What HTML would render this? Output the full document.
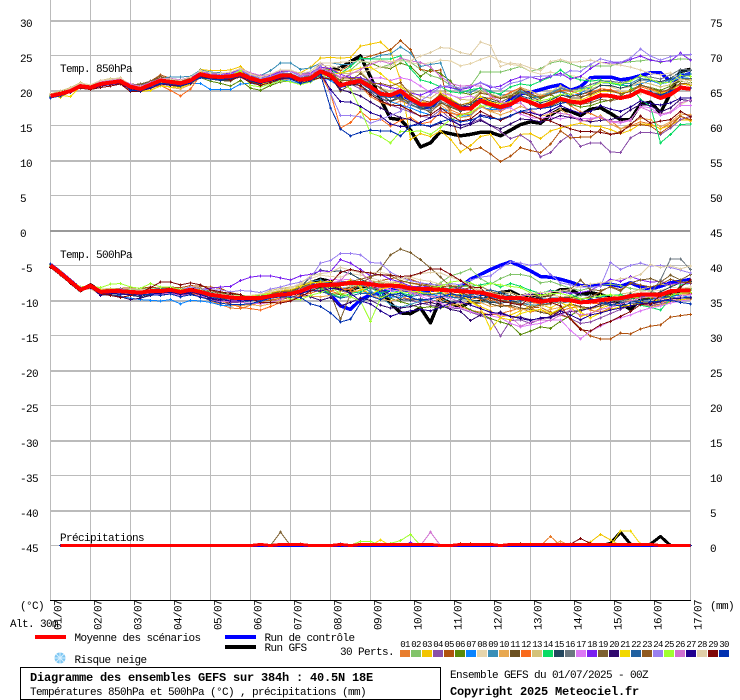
<!DOCTYPE html>
<html lang="fr">
<head>
<meta charset="utf-8">
<title>Diagramme des ensembles GEFS</title>
<style>
html,body{margin:0;padding:0;background:#fff;}
svg{display:block;}
text{font-family:"Liberation Mono",monospace;font-size:11px;letter-spacing:-0.6px;fill:#000;}
text.b{font-weight:bold;font-size:12px;letter-spacing:-0.2px;}
text.n{font-size:9px;letter-spacing:-0.6px;text-anchor:middle;}
polyline{fill:none;stroke-linejoin:round;}
</style>
</head>
<body>
<svg id="chart" xmlns="http://www.w3.org/2000/svg" width="740" height="700" viewBox="0 0 740 700">
<defs id="defs"></defs>
<g id="grid"></g>
<g id="ticks"></g>
<g id="series850"></g>
<g id="series500"></g>
<g id="seriesPrecip"></g>
<text x="60" y="72">Temp. 850hPa</text>
<text x="60" y="258">Temp. 500hPa</text>
<text x="60" y="541">Précipitations</text>
<text x="20" y="609">(°C)</text>
<text x="710" y="609">(mm)</text>
<text x="10" y="627">Alt. 30m</text>
<rect x="35" y="635" width="31" height="4" fill="#ff0000"/>
<text x="74.5" y="641">Moyenne des scénarios</text>
<rect x="225" y="635" width="31" height="4" fill="#0000ff"/>
<text x="264.5" y="641">Run de contrôle</text>
<rect x="225" y="645" width="31" height="4" fill="#000000"/>
<text x="264.5" y="651">Run GFS</text>
<g>
<circle cx="60" cy="658" r="5.5" fill="#7cc6f2"/>
<path d="M60 652.5V663.5M54.5 658H65.5M56 654L64 662M64 654L56 662" stroke="#d8f0ff" stroke-width="1" fill="none"/>
</g>
<text x="74.5" y="663">Risque neige</text>
<text x="340" y="655">30 Perts.</text>
<g id="memberLegend"></g>
<rect x="20.5" y="667.5" width="420" height="32" fill="#fff" stroke="#000" stroke-width="1"/>
<text class="b" x="30" y="681">Diagramme des ensembles GEFS sur 384h : 40.5N 18E</text>
<text x="30" y="695">Températures 850hPa et 500hPa (°C) , précipitations (mm)</text>
<text x="450" y="678">Ensemble GEFS du 01/07/2025 - 00Z</text>
<text class="b" x="450" y="695">Copyright 2025 Meteociel.fr</text>
</svg>
<script>
const dateLabels=["01/07","02/07","03/07","04/07","05/07","06/07","07/07","08/07","09/07","10/07","11/07","12/07","13/07","14/07","15/07","16/07","17/07"];
const tempTicks=[30,25,20,15,10,5,0,-5,-10,-15,-20,-25,-30,-35,-40,-45];
const mmTicks=[75,70,65,60,55,50,45,40,35,30,25,20,15,10,5,0];
const memberIds=["01","02","03","04","05","06","07","08","09","10","11","12","13","14","15","16","17","18","19","20","21","22","23","24","25","26","27","28","29","30"];
const memberColors=["#e87d2d","#82c46a","#f2c500","#8a4fa8","#b0520e","#5a8a0a","#0a84ff","#e6d5ac","#3a8fb7","#e8a850","#6b5020","#f96a1c","#d4c27a","#0adc64","#24475f","#6b7780","#dc78f5","#7a1ff0","#7d6030","#30086e","#f2d800","#2060a0","#905a20","#9a80f0","#a0ff30","#d070d0","#200090","#e0cfa8","#800808","#0030b0"];

const mean850=[19.3,19.6,20,20.7,20.5,21,21.2,21.4,20.6,20.3,20.9,21.5,21.3,21.1,21.5,22.4,22.1,22,22.1,22.4,21.8,21.4,21.7,22.2,22.2,21.6,21.8,22.8,22.2,20.8,21.2,21.4,20.6,19.6,19.4,20,18.9,18.1,18.1,19.1,18.3,17.5,17.5,18.6,18.1,17.7,18.1,18.9,18.4,17.8,18.2,18.9,18.5,18.3,18.8,19.4,19.3,19,19.3,20.1,19.6,19,19.5,20.5,20.3];
const control850=[19.2,19.5,20,20.8,20.4,21,21.1,21.4,20.4,20.2,20.8,21.3,21.2,21,21.3,22.3,22,21.9,22,22.3,21.6,21.2,21.5,22.1,22,21.4,21.7,22.7,22.1,20.7,21,21.3,20.4,19.7,19.2,19.5,18.8,17.8,17.6,19,18.5,17.6,17.6,18.8,18.1,17.6,18.8,19.6,19.8,20.2,20.6,20.9,20.1,20.6,21.9,22,22,21.6,21.8,22.2,22.6,22.6,21.4,22.1,22.5];
const gfs850=[19.4,19.7,20.1,20.7,20.5,21.1,21.3,21.6,20.5,20.2,20.9,21.4,21.3,21,21.4,22.3,21.9,21.8,21.9,22.3,21.6,21.2,21.5,22.1,22.1,21.5,21.9,22.6,23,23.3,24.2,25,22,18.8,16.1,15.9,14.4,12,12.6,14.2,13.9,13.6,13.8,14.1,14.1,13.6,14.4,15.2,15.6,15.4,16.6,17.4,17.1,16.5,17.4,17.6,16.8,15.9,15.9,18.1,18.4,16.9,19.7,22.8,23.1];
const members850=[
[19.2,19.5,20.1,20.9,20.4,21.1,21.4,21.5,20.4,20.1,20.5,21.3,21,20.9,21.4,22.5,22.2,22.1,22.2,22.6,21.8,21.3,21.8,22.3,22.4,21.7,22,23,22.5,21.4,21.6,20.6,19.2,18.4,17.9,18.6,18,17.4,17.2,18.5,17.3,16.7,16.6,17.9,17.2,17.1,17.8,19,18.2,17.5,18.1,18.9,17.9,17,16.8,16.1,15.8,14.6,15,15.6,15.3,14.6,15.4,16.4,15.7],
[19.3,19.7,20.2,20.8,20.6,21.2,21.4,21.6,20.8,20.5,21,21.7,21.5,21.2,21.7,22.6,22.3,22.2,22.4,22.7,22.1,21.6,21.9,22.5,22.5,21.9,22.1,23.1,23.1,22.4,23,24.2,24,23.4,23.8,24.4,24.1,23.1,22.2,21.8,20.8,20.2,20.7,22.7,22.7,22.7,23.1,23.5,22.8,23.2,24,24.3,23.9,23.4,23.6,23.6,23.6,24,24.2,24.3,24.5,24.1,24.4,24.6,24.5],
[19.4,19.1,19.9,21,20.6,21.1,21.3,21.6,20.5,20.1,20.4,21,20.9,20.9,21.7,23.1,22.9,22.9,23,23.5,22.3,21.6,22,22.7,22.8,22.6,23.4,24.7,24.8,24.7,24.8,26.4,26.7,27,25.7,21.6,13.1,13.9,13.5,14.3,13.1,11.3,12.2,13.5,13.8,11.9,12.2,13.8,13.9,13.2,14.3,14.7,15.1,15.4,15,14.9,14.5,13.9,14.4,15.3,15.2,14.6,15.1,15.9,15.8],
[19,19.4,20,20.8,20.6,21.1,21.4,21.5,20.7,20.4,21,21.7,21.5,21.3,21.8,22.8,22.3,22.1,22.3,22.9,22,21.5,21.8,22.3,22.5,21.9,22.3,24,23,21.2,21,20.3,20,19.2,18,17.5,17,16.4,16.2,17.3,16,15.1,15.4,16,15.1,14.2,13.2,13.7,12.8,10.6,11.2,12.8,13.8,12.1,12.6,12.6,11.3,11.2,13.3,14.1,14.1,13.8,14.7,15.9,16.4],
[19.3,19.7,20.2,20.7,20.5,21.1,21.2,21.3,20.8,20.8,21.4,22.3,21.8,21.5,21.9,22.7,22.2,22,22.1,22.7,22,21.5,21.8,22.4,22.2,21.6,22,23.4,23.1,22.9,23.7,24.6,25,25.4,25.9,27.2,25.9,23.1,22.8,23,16.5,12.6,11.6,11.9,11,9.9,10.7,11.9,11.5,11.2,12.4,14.3,13.3,13.4,13.4,14.5,13.8,14.2,15,15.2,15,14,15,16.4,15.9],
[19.2,19.5,20,20.5,20.3,20.8,21,21.1,20.3,20.1,20.6,21,20.8,20.6,21,21.9,21.4,21.1,20.7,21.5,20.4,20.1,20.8,21.3,21.4,20.9,21.4,22.2,21.7,21.5,22.4,23.1,24,23.4,23.2,24,23.5,22.1,23.1,22.5,21.4,19.8,19.5,20,19.4,19,19.4,19.9,19.4,18.9,19.5,18.7,18.1,17.7,17.9,18.4,18.7,19.3,20.2,20.8,20.5,20.1,20.7,21.4,21.2],
[19.2,19.6,20.1,20.7,20.3,20.8,21,21.1,20.2,20,20.6,20.9,21,20.9,21.1,21.1,20.2,20.2,20.2,21,21.1,20.9,21.2,21.6,21.4,21,21.3,22,21.5,20.5,21.1,21.1,20.4,19.8,18.5,18,17.6,17,16.6,17.6,17,16.4,16.5,17.7,17.4,17.3,17.8,18.9,19,19.2,19.5,19.9,19.2,19.7,20.5,21.5,21.3,20.9,20.7,21,21.5,21,21.3,21.9,21.8],
[19.3,19.7,20.3,21,20.7,21.3,21.6,21.7,20.4,20,20.4,21,21,21,21.6,22.6,22.3,22.3,22.5,22.8,22.2,21.8,22.3,22.8,22.9,22.4,22.6,23.7,23.6,23.2,22.7,22.6,23,23.4,23.4,24.6,24,23.9,24,24.4,24.3,23.6,23.9,24.5,25,24.2,23.8,23.6,22.8,22.4,22.7,22.4,22.2,22,21.6,20.9,20.6,20.1,20,19.6,20.5,19.7,20.1,18,18.8],
[19.3,19.7,20.1,20.9,20.5,21.1,21.4,21.5,20.9,20.6,21.1,21.8,22,22,22.1,23,22.7,22.6,22.6,23.1,22.2,22.2,22.9,24,24,23.1,23.3,24,24,23.8,23.8,24.6,24.6,25.1,25.3,26.3,25.4,23.5,23.8,24,20.5,20,19.8,20.5,20,19.4,19.6,20,19.4,19.2,19.8,20.4,20.1,20.3,20.6,21.2,21.1,21,21.1,21.8,21.6,21.1,21.6,22.5,22.4],
[19.5,19.8,20.3,20.8,20.6,21.3,21.5,21.6,20.3,20,20.3,20.9,20.5,20.3,20.9,22,21.7,21.7,21.8,22.2,21.5,21,21.4,22,22,21.4,21.9,22.8,22.4,21.6,21.6,21.6,20.8,19.8,19.6,20.1,19.4,17.7,17.5,18,17,16.2,16.4,17.8,17.1,16.6,17.1,17.8,17.3,16.4,16.7,17.4,16.4,15.7,15.8,16.5,15.3,14.6,15.3,16.1,15.9,14.9,15.6,16.7,16.6],
[19.2,19.6,20.1,20.7,20.4,20.9,21.1,21.3,20.9,21,21.4,21.9,21.7,21.4,21.8,22.7,22,21.5,21.4,22.2,21.3,20.9,21.3,21.9,21.8,21.2,21.7,22.4,22,20,20.9,21.1,20.6,19.5,18.5,19,18.4,17.7,16.9,18.3,17.7,17.1,17.8,19.2,18.9,18.4,19.1,19.8,19.2,18.6,18.9,19.5,19,19,19.7,20.3,20.1,19.7,20,20.9,20.4,19.6,20.4,21.7,21.7],
[19.2,19.6,20,20.6,20.4,20.9,21,21.2,20.1,20,20.4,20.8,20.1,19.3,20.3,22.2,21.9,21.8,21.9,22.3,21.6,21.2,21.5,22.1,22,21.3,21.6,22.4,19.7,14.7,15.5,17.1,15.9,16,15,15.8,16.2,15.3,15.6,17,16.8,16.6,17,18.7,19,19.1,19.8,20.5,20,19.3,19.5,20.1,20,19.5,19.8,20.3,20.2,19.7,20,20.6,20.2,19.8,20.1,21,20.8],
[19.6,20,20.5,21.2,20.8,21.5,21.8,21.8,20.5,20.1,20.5,21.1,21.2,21.2,21.7,22.7,22.4,22.4,22.6,23.1,22.5,22,22.4,22.9,23,22.3,22.5,23.4,23.3,22.5,22.5,22.8,21.3,20.4,20,20.7,20,19.2,19,20,19.5,18.8,18.7,19.9,19.6,19.1,19.5,20.4,20,19.4,19.9,20.7,20.1,20,20.3,20.8,20.7,20.4,20.6,21.3,21,20.6,20.9,21.7,21.5],
[19.3,19.7,20.1,20.8,20.5,21,21.2,21.4,20.6,20.3,20.8,21.4,21.2,21.1,21.5,22.3,22.1,22,22.1,22.5,21.9,21.4,21.7,22.2,22.2,21.5,21.8,22.6,22.8,22.5,23.5,24.7,24.6,24.6,24.6,25,23.2,21.6,21.2,20.6,19.9,19.7,20.2,20.4,19.8,19.6,20.6,21,20.8,21.4,22,23,22,21.6,21.4,21.6,21.1,20.8,20.7,18.8,17.8,12.6,13.8,15.2,15.3],
[19.3,19.5,20,20.7,20.4,20.9,21,21.2,20.4,20.1,20.6,21.2,21,20.9,21.2,22.1,21.7,21.5,21.6,22.1,21.4,21,21.3,21.9,21.8,21.2,21.5,22.4,22.1,20.6,20.9,20.8,19.8,18.8,18.6,19.2,18.1,17.5,17.6,18.8,18.2,17.8,18.1,19.2,18.6,18.2,18.5,19.3,18.9,18.3,18.7,19.4,19.2,19.5,20,20.8,20.8,20.4,20.8,21.6,21.6,21.3,21.8,22.8,22.9],
[19.4,19.7,20.1,20.6,20.4,20.9,21.1,21.3,20.9,20.8,21.3,21.8,21.6,21.3,21.7,22.7,22.5,22.4,22.4,22.8,22.2,21.9,22.1,22.5,22.5,21.9,22.1,23,22.6,21,21.4,21.9,21.2,20.5,19.2,18.8,18,17.4,17.2,18.5,17.9,17.2,17.4,18.5,18.2,18,18.5,19.7,19.5,19.1,19.6,20.3,20.1,20.4,20.9,21.4,21.4,21.2,21.5,22.1,22,21.7,22.3,23.1,23],
[19.1,19.5,20,20.6,20.4,20.9,21.2,21.4,20.7,20.5,21,21.6,21.5,21.4,21.8,22.8,22.4,22.3,22.5,23,22,21.5,21.7,22.2,22.2,21.6,21.9,22.9,22.8,22,21.9,21.1,21.8,21.9,21.5,21.9,21.6,20.7,19.8,19.7,19.4,19,19.3,18.6,17.8,17.3,17.6,16.7,16.2,16.1,16.3,16,16.3,16.1,16.1,16.3,15.6,15.4,15.8,17.8,17.6,16.5,16.9,17.9,17.9],
[19.2,19.5,20,20.7,20.4,21,21.2,21.4,20.5,20.2,20.9,21.6,21.5,21.3,21.8,22.9,22.5,22.4,22.6,23,22.2,21.8,22.2,22.8,22.9,22.5,22.6,23.4,23.2,22.4,21.9,21.9,21.4,20.9,20.5,20.2,19.7,19.4,20,20.7,20.5,20.2,20.5,21.2,20.5,20.7,21.5,22,22,21.6,22.1,22.5,21.7,22.1,23.2,24.1,24,24,24.5,25,24.4,24.2,24.3,25.4,24.4],
[19.4,19.8,20.2,20.8,20.6,21.1,21.3,21.5,21,20.9,21.4,22.1,21.6,21.2,21.6,22.6,22.2,22.2,22.3,22.8,22,21.3,21.4,22,21.8,21.3,21.7,22.5,22.5,21.5,21.5,22.5,21.3,20.4,19.5,18.9,18.4,17.7,18.2,19,18.2,17.6,17.3,18.4,17.9,17.5,18,18.9,18.1,17.5,17.8,18.5,18.2,18.1,18.3,18.8,18.6,18.9,19.6,20.1,19.8,19.6,20,21,21],
[19,19.3,19.9,20.6,20.3,20.8,21,21.2,20.2,20.1,20.7,21.2,21,20.9,21.4,22.3,22,21.9,22,22.3,21.7,21.3,21.6,22.1,22.1,21.5,21.8,22.7,21.9,20.2,19.8,19.3,18.4,17.6,16.8,16.2,15.9,15.2,14.9,15.4,15.1,14.7,15.2,15.8,15.1,14.6,15.3,16,15.9,15.6,15.9,16.5,16.2,15.9,15.6,15.8,15.9,16.3,17.3,18.1,17.9,17,17.6,18.8,18.6],
[19.2,19.4,19.2,20.6,20.2,20.7,21.1,21.3,20.1,19.9,20.1,20.7,20.6,20.5,21,22.2,22,22.2,22.3,22.8,21.9,21,21.3,21.7,21.8,21.2,21.4,21.9,22.3,22.6,22.9,23.3,23.4,22.5,21.3,20.6,19.6,18.5,18.2,19.7,18.9,18,18.4,19.2,18.4,18.2,18.5,18.9,18.5,17.9,18.6,18.9,18.7,18.7,19.3,19.9,19.9,19.7,20,20.8,20.4,19.7,19.9,21.1,20.8],
[19.2,19.5,20,20.7,20.4,20.9,21.1,21.4,20.4,20.1,20.7,21.4,21.2,21,21.4,22.2,21.9,21.8,21.9,22.2,21.6,21.2,21.6,22.1,22.1,21.6,21.9,22.8,22,20.6,20.9,21.1,20.2,19.2,19.1,19.7,18.5,17.7,17.8,18.9,18.1,17.2,17.3,18.4,17.7,17.4,17.9,18.7,18.3,17.9,18.4,19,18.6,18.4,18.9,19.5,19.4,19.2,19.5,20.2,19.9,19.3,19.8,20.7,20.4],
[19.3,19.6,20,20.7,20.5,21,21.3,21.5,20.7,20.7,21.1,21.9,21.6,21.4,21.8,22.6,22.4,22.3,22.4,22.7,22.1,21.7,22,22.4,22.4,21.8,22.1,23,22.6,21.9,21.8,21.7,21,21.1,20.7,21.2,19.5,18.7,18.4,19.5,18.7,18,18.3,19.7,19.4,18.9,19.2,20.3,19.6,19.1,19.5,20,19.5,19.2,19.5,20.1,20,19.6,19.9,20.8,20.4,19.9,20.2,21.1,21],
[19.1,19.4,19.9,20.6,20.2,20.8,21,21.3,20.1,20,20.6,21.2,21.2,21,21.5,22.6,22.4,22.3,22.4,23,22.3,21.8,22.1,22.6,22.8,22.1,22.4,23.6,19.7,16.5,16.5,16.3,15.4,15.9,16.5,17.1,18.2,18.6,19.5,20.6,20.8,20.4,20.7,21.2,20.7,20.2,21.1,21.4,22,22.1,22.2,22.2,22.9,22.8,23.8,24.6,24.2,24.1,24.7,26,25,24.4,24.9,25.2,25.2],
[19.3,19.6,20,20.8,20.6,21.2,21.5,21.6,20.3,20,20.6,21.2,21.1,21,21.6,22.7,22.2,22,22.2,22.9,20.8,20.6,21,21.5,21.3,20.9,21.3,22.4,22,21.3,20.3,17.4,14,13.5,12.6,14.2,14.2,14.3,13.8,14.8,15.9,16.5,16.9,17.9,17.8,17.6,18.4,18.9,18.7,18.6,18.9,19.5,19.6,20.1,20.6,21.2,21.2,21,21.4,22.2,21.7,21.1,21.3,22.2,22.1],
[19.4,19.8,20.3,20.9,20.7,21.3,21.5,21.7,21,20.7,21.2,21.8,21.8,21.6,22,22.9,22.6,22.5,22.7,23.2,22.6,22.2,22.4,22.9,22.9,22.3,22.4,23.2,22.8,21.9,22.4,23.1,23.8,24.3,23.9,24.7,24.3,24.1,23.4,22.1,21.1,20.7,20.8,20.7,19.3,18.5,18.1,18.3,17,16.6,17,16.8,16.6,15.7,15.9,16.3,15.7,15.6,15.9,17.7,17.1,16.7,17,18.3,18.7],
[19,19.3,19.8,20.5,20.2,20.7,20.9,21.1,20.2,20,20.4,21,20.8,20.7,21.1,22,21.8,21.7,21.8,22,21.5,21.1,21.4,21.8,21.9,21.3,21.6,22.5,20.2,18.5,18.4,17.8,16.9,16.4,15.3,14.9,15,15.5,16.2,16.6,15.8,15.1,15.4,16.6,16.3,15.8,16.4,17.1,16.9,16.5,17.2,17.9,17.3,16.8,17.1,17.9,17.4,17.1,17.7,18.6,18.2,18,18.3,19,19],
[19.5,19.8,20.4,21.1,20.9,21.5,21.7,21.9,20.8,20.6,21,21.7,21.7,21.5,22,22.9,22.6,22.5,22.7,23.2,22.4,22,22.4,23,23,22.5,22.8,24,24,24.1,24.2,24.3,24.1,24.4,24.2,24.3,24.3,25,25.5,26.2,26.1,25.5,25.2,27,26.5,23.5,24,23.8,23.3,22.9,24.2,24.5,24.1,24.2,24.4,24.1,23.8,23.7,23.4,23,22.5,22.3,22.6,21.5,21.1],
[19,19.4,20,20.4,20.2,20.5,20.7,21,19.9,19.9,20.6,21.1,20.9,20.8,21.2,22.1,21.8,21.7,21.6,22,21.2,20.8,21.2,21.7,21.7,21.4,21.5,21.9,21.7,21.2,21,20.8,19.5,18.6,18,17.9,17.2,16.4,16.6,17.6,16.6,15.7,16,17.1,16.4,15.8,16.5,17,16.6,16,15.7,15.1,14.6,14.2,14.2,14.1,13.8,14,15.2,16.4,15.4,15.7,15.9,17.1,16.3],
[19,19.3,19.8,20.6,20.4,20.9,21.1,21.4,20.1,20,20.6,21.1,21,20.8,21.2,21.9,21.7,21.6,21.8,22.1,21.6,21.3,21.6,22.1,21.7,21.1,21.4,22.4,17.6,14.6,13.6,14.1,14.4,14.3,14.3,13.6,15,15.2,15,15.6,16,15.6,15.8,16.4,16.1,16,16.5,17.1,17.4,17.5,17.7,18.2,18.5,18.4,18.6,19.1,19.3,19,19.4,20,19.8,19.4,20,20.6,20.4]
];

const mean500=[-4.9,-6,-7.2,-8.4,-7.8,-8.7,-8.6,-8.6,-8.7,-8.8,-8.6,-8.6,-8.4,-8.7,-8.4,-8.7,-9.1,-9.3,-9.5,-9.6,-9.6,-9.6,-9.3,-9.1,-9,-8.6,-8,-7.7,-7.7,-7.6,-7.4,-7.4,-7.6,-7.8,-7.8,-7.9,-8.2,-8.3,-8.3,-8.4,-8.5,-8.6,-8.7,-8.8,-9.1,-9.5,-9.6,-9.6,-9.8,-10.1,-9.9,-9.8,-9.9,-10.2,-10.1,-9.9,-9.7,-9.6,-9.3,-9.1,-9.1,-9.1,-8.6,-8.5,-8.5];
const control500=[-4.8,-5.9,-7.1,-8.3,-7.9,-8.9,-8.7,-8.8,-8.8,-8.9,-8.7,-8.7,-8.5,-8.8,-8.5,-8.8,-9.2,-9.6,-9.6,-9.8,-9.7,-9.5,-9,-8.7,-8.6,-8.2,-7.8,-7.9,-9.1,-10.7,-11.2,-9.8,-9.1,-8.8,-8.4,-8.4,-8.7,-8.6,-8.5,-8.3,-8.4,-7.9,-6.9,-6.2,-5.5,-4.9,-4.4,-5,-5.7,-6.5,-6.6,-6.9,-7.3,-7.8,-7.8,-7.6,-7.6,-7.9,-7.4,-8,-8.3,-7.9,-7.4,-7.2,-6.9];
const gfs500=[-5,-6.1,-7.3,-8.5,-7.7,-8.6,-8.5,-8.5,-8.6,-8.7,-8.5,-8.5,-8.3,-8.6,-8.3,-8.6,-9,-9.1,-9.3,-9.5,-9.6,-9.5,-9.2,-8.9,-8.6,-8.1,-7.4,-6.9,-7.2,-8.4,-8.4,-7.9,-7.9,-8.4,-10.3,-11.7,-11.8,-11,-13.1,-9.6,-10.3,-10.9,-10.1,-10.1,-9.1,-8.8,-8.6,-9.3,-9.1,-9.3,-9.1,-8.4,-8.4,-9.1,-8.8,-9.1,-9.5,-10.3,-11.2,-9.8,-9.5,-9.3,-9.1,-8.8,-8.4];
const members500=[
[-5,-6.1,-7.2,-8.3,-8,-8.8,-9,-8.9,-9,-9.2,-8.9,-9,-8.7,-9.1,-8.9,-9.2,-10,-10.5,-11,-11.1,-10.6,-10.2,-9.8,-9.6,-9.2,-8.8,-8.2,-8.1,-8.6,-9,-8.7,-8.5,-8.9,-9.3,-9.2,-9.5,-9.7,-9.9,-10.3,-9.6,-10.3,-10.8,-11.3,-11.6,-12,-11.8,-11.4,-11,-11.6,-11.2,-12,-11.4,-11,-10.8,-11.3,-11.6,-11,-10.3,-9.9,-10,-10.4,-10.2,-9.8,-9.6,-9.6],
[-4.9,-6.2,-7.4,-8.5,-8,-8.6,-8.3,-8.3,-8.4,-8.3,-8.1,-8.2,-8,-8.3,-8,-8.3,-8.8,-9.1,-9.4,-9.5,-9.5,-9.7,-9.5,-9.3,-9.2,-8.7,-8.2,-8.1,-7.5,-7.2,-7.6,-8,-7.5,-7.4,-7.8,-7.5,-6.9,-7.4,-7.9,-7.4,-6.4,-6,-5.4,-6.8,-7.6,-6.8,-6.2,-6.2,-6.5,-7.4,-7.2,-7.7,-8.2,-8.5,-8.1,-7.8,-7.6,-7.8,-8.2,-8.4,-8.6,-9,-8.9,-8.1,-8.2],
[-5,-6,-7.2,-8.4,-7.9,-8.8,-8.6,-8.6,-8.8,-8.9,-8.6,-8.7,-8.5,-8.8,-8.6,-8.8,-9.3,-9.6,-9.7,-9.8,-9.6,-9.4,-9.1,-8.8,-8.9,-8.6,-7.6,-7.3,-7.8,-8.1,-9,-8.4,-8.1,-7.7,-7.5,-7.6,-7.8,-8.2,-8.5,-8.8,-9,-9.4,-10,-10.8,-11.4,-12.3,-12,-11.4,-10.7,-10.5,-11,-10.2,-10.9,-12.2,-11.8,-11,-10.6,-10.4,-9.9,-10.1,-10.3,-10.6,-10.1,-9.8,-9.7],
[-5.1,-6.2,-7.4,-8.3,-7.8,-8.8,-8.7,-8.5,-8.7,-9,-8.9,-8.8,-8.4,-8.8,-8.4,-8.6,-9.1,-9.4,-9.5,-9.6,-9.8,-9.9,-9.5,-9.2,-8.8,-8.4,-7.8,-7.5,-7.4,-7.2,-7.2,-7.7,-8,-8.5,-9.2,-9.5,-9.9,-10.3,-10.6,-10.8,-11,-11.1,-11.6,-12.1,-12.6,-15,-12.8,-12.7,-13.2,-12.6,-12.2,-11.8,-12.5,-13.2,-13,-12.4,-11.8,-11.2,-10.6,-10.4,-10.7,-10.4,-10,-9.8,-9.7],
[-5,-6,-7.1,-8.2,-7.8,-8.5,-8.2,-8.2,-8.1,-8.2,-8,-8.2,-8,-8.1,-7.8,-7.9,-8,-8.2,-8.8,-9.1,-9.6,-10,-9.9,-9.8,-9.5,-9,-8.5,-8.1,-7.9,-7.6,-7.6,-7.7,-7.4,-7.1,-6.8,-6.6,-6.9,-7.4,-7.8,-8.2,-8.8,-9.4,-9.8,-9.4,-9.9,-10.5,-10.8,-11.3,-11,-10.9,-11.6,-12,-12.5,-13.9,-15,-15.4,-15.4,-14.6,-14.7,-14,-13.6,-13.4,-12.3,-12.1,-11.9],
[-5.1,-6.3,-7.5,-8.1,-8.1,-8.9,-9,-9,-9,-9,-8.8,-8.7,-8.6,-8.9,-8.4,-8.4,-8.7,-8.8,-8.9,-9.3,-9.5,-9.4,-9,-8.4,-8,-7.9,-8.3,-8.7,-8.9,-9.1,-9.3,-8.9,-8.9,-9.3,-9.6,-10.1,-10.5,-11,-10.8,-11,-10.7,-10.4,-11.3,-11.8,-12.5,-13,-13.4,-14.8,-14.3,-13.7,-13.9,-12.9,-12.1,-11.2,-11,-10.4,-10.2,-10,-9.7,-9.4,-9.4,-9.1,-9,-8.6,-8.4],
[-4.8,-5.8,-7,-8.2,-8,-9,-9,-9.3,-9.6,-9.8,-9.9,-10,-9.8,-10.4,-9.9,-10,-10.2,-10.6,-10.7,-10.6,-10.4,-10.1,-9.6,-9.3,-9.2,-8.9,-8.6,-8.4,-8.5,-8.2,-8.1,-8.9,-8.7,-8.9,-9.4,-9.5,-8.9,-8.6,-9,-9.4,-9.3,-9.1,-9.3,-9.6,-9.5,-9.7,-9.6,-9.8,-9.9,-10.3,-10.1,-9.7,-9.8,-10.3,-10,-9.5,-9.1,-9.3,-9.1,-9.3,-9.6,-9.5,-9.3,-9.2,-9.5],
[-4.9,-6,-7.1,-8.2,-8.3,-9.1,-9.1,-9,-8.6,-8.5,-8.4,-8.3,-8.2,-8.5,-8.1,-8.1,-8.6,-8.9,-9.2,-9.4,-9.5,-9.3,-9,-8.6,-8.2,-7.7,-6.8,-6.3,-6.5,-6.6,-6.1,-6.3,-6.7,-7.1,-7.3,-7.1,-6.6,-7,-7.2,-7.6,-8.1,-8.2,-8.6,-8.8,-9.3,-9.7,-9.9,-9.8,-10.4,-10.9,-10.4,-9.9,-9.8,-9.2,-9.3,-9.7,-9.8,-9.3,-9,-8.7,-8.4,-8.5,-8,-8.2,-8],
[-4.9,-5.8,-7,-8,-7.9,-8.6,-8.4,-8.3,-8.5,-8.6,-8.4,-8.2,-8.2,-8.5,-8.2,-8.7,-9.2,-9.3,-9.2,-9.3,-9.4,-9.2,-8.9,-8.6,-8.5,-8.1,-7.2,-7,-7.5,-7.2,-7.7,-8.1,-8.6,-9.5,-10.5,-10.9,-10.5,-10,-9.8,-10.2,-9.5,-9.6,-9.9,-10.1,-10.2,-9.9,-10,-10.3,-10.6,-10.5,-10.3,-9.9,-9.7,-9.8,-10,-10.2,-10.1,-9.6,-9.2,-9.1,-8.9,-9,-8.9,-8.9,-9.1],
[-5,-6.1,-7.3,-8.5,-8.2,-8.8,-8.9,-8.6,-8.9,-8.9,-8.7,-8.8,-8.5,-8.8,-8.6,-8.9,-9.7,-10.2,-10.6,-10.7,-10.5,-10.7,-10.4,-10,-9.8,-9.4,-9.3,-9.4,-9.2,-8.6,-8.2,-8.8,-9.1,-9.7,-10,-9.7,-9.1,-8.8,-9.3,-9.9,-10.6,-10.4,-10.1,-10.2,-10.8,-10.6,-10.9,-11.3,-11,-11.6,-11.2,-10.9,-10.6,-10.9,-11.2,-10.7,-10.4,-10.7,-10.3,-10.5,-10.8,-10.6,-10.3,-10,-9.8],
[-5,-6.1,-7.1,-8.3,-8,-8.6,-8.5,-8.6,-8.6,-8.7,-8.4,-8.3,-8.2,-8.6,-8.3,-8.5,-9,-9.1,-9.3,-9.3,-9.2,-9.1,-8.8,-8.5,-8.4,-8.2,-7.6,-7.3,-7.9,-8.4,-8,-7.5,-7.5,-7.6,-7.8,-8.1,-8.3,-7.8,-7.5,-8,-8.3,-8.9,-9.2,-9.8,-10.4,-10.8,-10.6,-11,-11.2,-11.6,-11.9,-11.2,-10.4,-10.8,-11,-10.7,-10.2,-10,-9.7,-9.5,-9.6,-9.8,-9.2,-9,-8.9],
[-4.9,-6,-7.3,-8.4,-7.8,-8.7,-8.8,-8.7,-8.6,-8.8,-8.8,-8.7,-8.8,-9,-8.8,-9.2,-9.6,-10,-10.4,-10.9,-11.1,-11.3,-10.8,-10.2,-9.9,-9.2,-8.9,-8.4,-8.6,-8.2,-8.4,-7.5,-8.1,-7.8,-7.5,-7.2,-7.4,-7.6,-8,-8.4,-9.1,-9.6,-9.2,-9.8,-9.6,-10.4,-9.9,-9.6,-10.2,-10.4,-10,-9.7,-9.9,-10.3,-10.3,-10.4,-10,-9.7,-9.4,-9.1,-9.5,-9.4,-8.9,-9,-9],
[-4.8,-5.9,-7.1,-8.2,-7.7,-8.3,-8.2,-8.3,-8.5,-8.5,-8.4,-8.5,-8.3,-8.5,-8.3,-8.6,-9.1,-9.3,-9.2,-9.3,-9.2,-9.1,-8.5,-8.2,-8,-7.7,-7.2,-7.6,-7.5,-7.7,-7.9,-7.6,-7.1,-7.3,-7.5,-7.1,-7.5,-7.7,-7.8,-7.6,-7.7,-7.9,-8,-8.6,-8.9,-8.7,-8.8,-9.3,-9.2,-9.3,-9.1,-9.4,-9.6,-9.7,-9.4,-9.5,-9.5,-9,-8.8,-8.3,-8,-7.6,-7.8,-7.3,-7.2],
[-5,-6.2,-7.3,-8.3,-8.1,-8.8,-8.5,-8.4,-8.6,-8.7,-8.4,-8.4,-8.3,-8.5,-8.2,-8.5,-9,-9.2,-9.4,-9.6,-9.7,-9.6,-9.5,-9.4,-9.1,-8.7,-8.4,-8.2,-8.9,-9.5,-8.9,-8.7,-8.1,-8.9,-8.4,-8.8,-9.2,-8.9,-9.1,-8.8,-8.1,-7.8,-7.9,-7.7,-7.4,-8,-7.5,-7.9,-8.5,-8.9,-8.5,-8.6,-9,-9.7,-9.5,-9.3,-9.2,-9.1,-9.4,-10.6,-10.9,-11.3,-9.7,-7.7,-7.5],
[-5,-6,-7.1,-8.3,-7.9,-8.6,-8.8,-8.9,-9.2,-9.4,-9.1,-9,-8.9,-9.2,-8.7,-9,-9.4,-9.6,-9.8,-9.7,-9.6,-9.5,-9.2,-9,-8.7,-8.1,-6.5,-5.6,-5.8,-5.7,-6.1,-6.9,-7.5,-8.4,-9,-9.8,-9.9,-9.7,-9.9,-10.2,-10.2,-9.8,-9.4,-9.6,-10.2,-10.3,-10.1,-10,-9.7,-9.9,-9.6,-9.6,-9.5,-9.1,-9.3,-9.6,-9.8,-9.5,-9,-9.3,-9.2,-8.7,-8,-7.4,-7.2],
[-5.1,-6.2,-7.2,-8.5,-8.1,-8.9,-8.9,-8.8,-9,-9.1,-8.8,-8.6,-8.4,-8.8,-8.3,-8.4,-8.8,-9,-9.2,-9.4,-9.7,-9.8,-9.4,-9.1,-8.9,-8.3,-7.6,-7.3,-7.5,-7.3,-7.4,-7.7,-8.3,-8.2,-7.9,-8.2,-8.6,-8.7,-9.3,-9.4,-9.2,-9.3,-9.2,-9,-9.6,-9.9,-10.2,-10.5,-10.2,-9.9,-10.1,-10.3,-10.1,-10,-9.9,-9.7,-9.9,-10,-9.6,-9.3,-8.9,-7,-4,-4,-5.5],
[-4.9,-5.9,-7.2,-8.2,-8,-8.7,-8.5,-8.9,-8.6,-9,-9,-9.1,-8.8,-9.1,-9,-9.3,-9.5,-9.8,-9.9,-10,-9.7,-9.6,-9.4,-9.1,-8.7,-8.3,-7.9,-7.5,-6.9,-7,-6.9,-7.4,-7.8,-8.2,-8.4,-8.6,-8.9,-9.3,-9.9,-10.3,-10.8,-11,-11.5,-11.9,-12.1,-12.4,-13.2,-13.7,-13.4,-13.2,-12.7,-12.7,-14.2,-15.4,-14.3,-13.6,-12.9,-12.4,-12,-11.4,-11,-10.7,-10.3,-10,-9.8],
[-5,-6.1,-7.3,-8.4,-8.1,-8.9,-8.8,-8.8,-8.9,-8.9,-8.7,-8.6,-8.5,-8.6,-8.4,-8.3,-8.2,-8,-7.9,-7.1,-6.6,-6.4,-6.4,-6.7,-7,-6.4,-6.2,-5.7,-5.8,-4.1,-4.6,-5.5,-6.4,-6.2,-6.9,-7.3,-7.9,-8,-7.9,-8.4,-8.4,-8.1,-8.5,-8.9,-9.2,-9.3,-9.7,-9.3,-9,-8.9,-8.6,-8.7,-8.9,-8.8,-8.5,-7.7,-6.9,-7.2,-6.5,-7,-7.3,-7.2,-7.6,-7.4,-7.5],
[-5.1,-6,-7.1,-8.3,-7.9,-8.6,-8.4,-8.4,-8.7,-8.8,-8.5,-8.4,-8.2,-8.7,-8.2,-8.5,-8.9,-9.1,-9.4,-9.5,-9.4,-9.3,-8.9,-8.6,-8.5,-8.1,-7.5,-7.2,-8.9,-12.6,-9,-7.4,-6.7,-5.4,-3.4,-2.6,-3.1,-4.1,-5.3,-6.6,-7.9,-8,-7.5,-7.9,-8.6,-9.1,-9.2,-9.6,-9.9,-9.5,-9.3,-8.5,-8.3,-7,-8.4,-8.5,-8,-8.6,-7.4,-7,-6.8,-7.3,-6.3,-7,-6.2],
[-4.9,-5.9,-7.1,-8.3,-8.1,-8.9,-9.1,-9.4,-9.8,-9.6,-9.2,-9.1,-8.8,-9.1,-8.9,-9.5,-9.7,-10,-10.2,-10.2,-10,-9.7,-9.5,-9.2,-9,-8.9,-9.4,-9.9,-9.5,-10.7,-10.2,-9.6,-9.9,-10.6,-11,-11,-10.8,-10.4,-10.2,-10.6,-11.2,-11.5,-12.8,-12,-11.9,-11.6,-12.2,-12.3,-12.7,-12.5,-12.4,-11.8,-11.5,-11.4,-11,-10.4,-10.2,-10.4,-10,-10.2,-10.5,-10.1,-9.7,-9.6,-9.5],
[-4.7,-5.8,-7,-8.1,-7.9,-8.4,-8.4,-8.6,-8.5,-8.7,-8.6,-8.5,-8.4,-8.6,-8.4,-8.6,-8.9,-9.1,-9.3,-9.4,-9.3,-9.1,-8.8,-8.5,-8.4,-7.9,-7.4,-7.3,-7.2,-7.6,-7,-8,-9.1,-8.3,-8,-8.4,-8.6,-8.8,-8.9,-9,-9.2,-9,-10.1,-11,-14,-12.4,-12.7,-11.8,-11.4,-11.2,-11.8,-11.1,-10.3,-11.6,-12.4,-11.7,-11.2,-10.8,-10.6,-10.4,-10.1,-9.8,-9.5,-9.8,-9.7],
[-5,-6,-7.2,-8.5,-7.9,-9.1,-9.2,-9.1,-9,-9,-8.7,-8.9,-8.6,-9,-8.6,-8.9,-9.4,-9.7,-10,-10.2,-10,-9.8,-9.6,-9.2,-9.1,-8.9,-8.4,-8.6,-9.1,-9.6,-9.3,-8.9,-8.9,-9.3,-9,-9.2,-9.4,-9.1,-9.1,-8.9,-9.4,-9.6,-9.1,-8.7,-8.4,-8.8,-9.4,-9.9,-9.5,-9.6,-9.9,-9.7,-9.8,-10.3,-10,-10.2,-10.7,-10.2,-10.1,-9.9,-9.8,-9.6,-9.4,-9.6,-9.4],
[-4.9,-6.1,-7.2,-8.2,-7.8,-8.8,-8.7,-8.7,-8.9,-8.8,-8.5,-8.4,-8.3,-8.4,-8,-8.2,-8.5,-8.9,-9.2,-9.3,-9.4,-9.3,-9,-8.7,-8.6,-8.4,-7.9,-7.9,-8.1,-7.8,-7.2,-6.9,-6.5,-6.2,-6.4,-7.1,-7.4,-7.7,-7.9,-8,-7.8,-8.4,-8.1,-9,-9.6,-9.9,-10.1,-10.4,-10.9,-10.6,-10.4,-9.5,-9.4,-9.8,-9.4,-8.7,-7.9,-8.4,-7.5,-7.7,-8,-7.6,-6.9,-7.3,-7.4],
[-5,-6.1,-7.3,-8.4,-8.2,-8.8,-8.6,-8.3,-8.5,-8.7,-8.4,-8.5,-8.2,-8.4,-8,-8.3,-8.4,-8.4,-8.7,-8.5,-8.6,-8.8,-8.3,-8,-7.6,-7.3,-6.7,-4.6,-4.2,-3.2,-3.2,-3.4,-4.5,-4.6,-5.9,-6.6,-7.1,-7.4,-7.6,-7.8,-7.5,-7.7,-7,-6.6,-6.4,-5.3,-4.4,-4.6,-4.9,-4.7,-6.2,-7.4,-7.7,-8,-8,-7.9,-4.5,-5.5,-4.9,-4.6,-5,-4.9,-5.2,-5.6,-6],
[-4.9,-5.8,-7,-8,-7.8,-8.1,-7.6,-7.5,-8,-8.2,-7.5,-8,-8,-8.4,-8.2,-8.4,-9,-9.1,-9.2,-9.2,-9.2,-9.1,-9,-9.3,-9.7,-9.8,-9.2,-8.8,-8.1,-8.9,-9.4,-10,-12.9,-9.6,-8.9,-8.7,-8.8,-8.5,-8.1,-7.9,-7.3,-7.1,-7.4,-8,-7.5,-7.7,-7.9,-8.1,-8.8,-9.2,-8.9,-8.9,-9.3,-9.7,-9.6,-9.2,-9.1,-9.3,-9.4,-9.6,-9.4,-9,-9.2,-8.9,-8.8],
[-5,-6,-7,-8.1,-8,-8.7,-8.5,-8.6,-8.8,-8.8,-8.7,-9,-8.9,-9.2,-9.1,-9.4,-9.9,-10.1,-10.1,-10.2,-10.3,-10.4,-10.2,-9.8,-9.2,-8.8,-8.3,-8,-7.5,-7.1,-5.5,-5.9,-7.2,-7.9,-8,-8.3,-8.7,-9.1,-9.4,-9.3,-9.6,-10.2,-10.6,-11,-11.7,-12,-12.2,-13.6,-13,-12.7,-12.8,-12,-11.3,-12,-11.8,-11.2,-10.9,-10.5,-10,-9.6,-9.3,-9.7,-9.8,-9.3,-9.1],
[-5,-6.2,-7.4,-8.6,-8,-9.2,-8.9,-9,-9.1,-9.2,-9,-8.9,-8.7,-9.1,-8.7,-9.1,-9.6,-9.8,-10,-10,-9.9,-9.8,-9.6,-9.3,-9.2,-8.9,-8.5,-8.6,-8.2,-8.3,-8.9,-10,-10.4,-11.4,-12.2,-11.7,-11.4,-11.2,-11.4,-10.9,-10.3,-10.1,-10.6,-11.1,-11.6,-11.8,-12.2,-12.5,-12.8,-12.4,-12.3,-11.4,-12,-12.7,-12,-11.7,-11.3,-11,-10.7,-10.4,-10.3,-10,-9.7,-9.6,-9.6],
[-5,-6.1,-7.2,-8.4,-7.9,-8.7,-8.6,-8.5,-8.4,-8.4,-8.3,-8.4,-8.2,-8.6,-8.3,-8.5,-8.9,-9,-9.2,-9.3,-9.2,-9,-8.7,-8.4,-8.1,-7.5,-6.4,-6.1,-5.9,-5.2,-5.6,-6,-5.9,-5.9,-6.2,-6.8,-6.5,-6.1,-5.9,-6,-6.6,-7,-7.8,-8.4,-8.8,-9.2,-9.5,-9.2,-8.9,-8.8,-8.7,-8.6,-8.4,-7.9,-7.6,-7.4,-7.2,-6.8,-6.7,-6.2,-4.8,-5.2,-5,-5.4,-5],
[-5.2,-6.3,-7.5,-8.6,-8.1,-9,-9.2,-9.5,-9.2,-8.8,-8.1,-7.3,-7.3,-7.7,-7.4,-7.7,-8.4,-8.7,-8.9,-9.1,-9.7,-10.2,-10.2,-10.3,-10,-9.4,-8.6,-8,-7.5,-5.9,-5.5,-5.8,-6,-6.3,-6.3,-6.5,-6.4,-6,-5.4,-5.4,-6.2,-7.1,-8,-8.1,-9.6,-10,-10.3,-10.6,-9.5,-9.7,-10.2,-10.7,-12.6,-14.1,-14.3,-13.4,-12.9,-12.2,-11.5,-10.5,-10.4,-9.2,-9,-8,-7],
[-4.7,-5.9,-7,-8.2,-7.9,-8.9,-8.8,-8.8,-8.9,-9.1,-9.1,-9.2,-9,-9.4,-9.1,-9.4,-9.9,-10.3,-10.5,-10.5,-10.4,-10,-9.6,-9.4,-9.4,-9.5,-10.4,-10.8,-11.7,-13,-12.6,-10.3,-9.3,-9.8,-9.1,-8.9,-9.5,-9.9,-9.7,-9.4,-9,-9.2,-9.5,-9.2,-9.3,-9.4,-9.9,-9.7,-10,-10.2,-9.9,-9.9,-10.1,-10.2,-9.7,-9.9,-10.5,-10.7,-10.3,-10.2,-10.1,-10,-9.9,-10.2,-10.4]
];

const precipMean=[null,0,0,0,0,0,0,0,0,0,0,0,0,0,0,0,0,0,0,0,0,0.15,0,0.15,0.15,0.15,0,0,0,0.15,0,0.15,0.15,0.15,0.15,0.15,0.15,0.15,0.15,0,0,0.15,0.15,0.15,0.15,0,0.15,0.15,0.15,0.15,0.15,0.15,0.15,0.15,0.15,0.15,0.15,0.15,0.15,0.15,0.15,0,0,0,0];
const precipControl=[null,0,0,0,0,0,0,0,0,0,0,0,0,0,0,0,0,0,0,0,0,0,0,0,0,0,0,0,0,0,0,0,0,0,0,0,0,0,0,0,0,0,0,0,0,0,0,0,0,0,0,0,0,0,0,0,0,0,0,0,0,0,0,0,0];
const precipGfs=[null,0,0,0,0,0,0,0,0,0,0,0,0,0,0,0,0,0,0,0,0,0,0,0,0,0,0,0,0,0,0,0,0,0,0,0,0,0,0,0,0,0,0,0,0,0,0,0,0,0,0,0,0,0,0,0,0.3,1.9,0.2,0,0.2,1.3,0,0,0];
const precipEventMember=[19,23,30,25,25,21,25,25,25,18,26,5,5,5,23,21,1,10,29,29,29,3,3,3,21,21,21];
const precipEventStep=[23,25,29,31,32,33,34,35,36,36,38,41,42,44,47,48,50,51,52,53,54,54,55,56,57,58,59];
const precipEventMm=[1.9,0.2,0.2,0.6,0.6,0.8,0.3,0.7,1.6,0.4,1.9,0.3,0.3,0.2,0.3,0.3,1.3,0.6,0.2,1,0.3,0.5,1.6,0.8,2.1,2.1,0.2];

const NS='http://www.w3.org/2000/svg';
const stepCount=65;
function xAt(step){return 50.5+step*10;}
function xDay(day){return 50+day*40;}
function yTemp(t){return 231-7*t;}
function yMm(mm){return 545.5-7*mm;}
function mk(tag,parent,attrs){
  const el=document.createElementNS(NS,tag);
  for(const k in attrs){el.setAttribute(k,attrs[k]);}
  parent.appendChild(el);
  return el;
}

const grid=document.getElementById('grid');
const ticks=document.getElementById('ticks');
dateLabels.forEach(function(label,d){
  const line=mk('rect',grid,{x:xDay(d),y:0,width:1,height:600,fill:'#bbbbbb'});
  
  
  const text=mk('text',ticks,{transform:'translate('+(xDay(d)+11.5)+',630) rotate(-90)'});
  text.textContent=label;
  
  
});
tempTicks.forEach(function(t,i){
  const major=t%10===0;
  const y=yTemp(t);
  const line=mk('rect',grid,{x:50,y:y-1,width:640,height:major?2:1,fill:t===0?'#999999':'#bbbbbb'});
  
  
  const left=mk('text',ticks,{x:20,y:y+6});
  left.textContent=t;
  
  
  const right=mk('text',ticks,{x:710,y:y+6});
  right.textContent=mmTicks[i];
  
  
});
const baseAxis=mk('rect',grid,{x:50,y:600,width:641,height:1,fill:'#000000'});



const defs=document.getElementById('defs');
memberColors.forEach(function(color,m){
  const marker=mk('marker',defs,{id:'pt'+m,markerUnits:'userSpaceOnUse',markerWidth:4,markerHeight:4,refX:2,refY:2,viewBox:'0 0 4 4',overflow:'visible'});
  
  
  mk('path',marker,{d:'M0.5 2H3.5M2 0.5V3.5',stroke:color,'stroke-width':1,fill:'none','shape-rendering':'crispEdges'});
});

function pointsOf(values,yFn){
  const pts=[];
  values.forEach(function(v,i){
    if(v!==null&&v!==undefined){pts.push(xAt(i)+','+yFn(v));}
  });
  return pts.join(' ');
}
function drawMember(parent,values,yFn,m,panel){
  const line=mk('polyline',parent,{points:pointsOf(values,yFn),stroke:memberColors[m],'stroke-width':1,'shape-rendering':'crispEdges','marker-start':'url(#pt'+m+')','marker-mid':'url(#pt'+m+')','marker-end':'url(#pt'+m+')'});
  
  
}
function drawThick(parent,values,yFn,color,width,name){
  const line=mk('polyline',parent,{points:pointsOf(values,yFn),stroke:color,'stroke-width':width,'shape-rendering':'crispEdges'});
  
  
}

const g850=document.getElementById('series850');
drawThick(g850,gfs850,yTemp,'#000000',3.5,'gfs-run-850hpa');
drawThick(g850,control850,yTemp,'#0000ff',3.5,'control-run-850hpa');
members850.forEach(function(values,m){drawMember(g850,values,yTemp,m,'850hpa');});
drawThick(g850,mean850,yTemp,'#ff0000',4,'scenario-mean-850hpa');

const g500=document.getElementById('series500');
drawThick(g500,gfs500,yTemp,'#000000',3.5,'gfs-run-500hpa');
drawThick(g500,control500,yTemp,'#0000ff',3.5,'control-run-500hpa');
members500.forEach(function(values,m){drawMember(g500,values,yTemp,m,'500hpa');});
drawThick(g500,mean500,yTemp,'#ff0000',4,'scenario-mean-500hpa');

const gP=document.getElementById('seriesPrecip');
drawThick(gP,precipGfs,yMm,'#000000',3,'gfs-run-precipitation');
drawThick(gP,precipControl,yMm,'#0000ff',3,'control-run-precipitation');
memberIds.forEach(function(id,m){
  const values=[null];
  for(let i=1;i<stepCount;i++){values.push(0);}
  precipEventMember.forEach(function(member,e){
    if(member===m+1){values[precipEventStep[e]]=precipEventMm[e];}
  });
  drawMember(gP,values,yMm,m,'precipitation');
});
drawThick(gP,precipMean,yMm,'#ff0000',3,'scenario-mean-precipitation');

const legendGroup=document.getElementById('memberLegend');
memberIds.forEach(function(id,m){
  const x=400+m*11;
  const label=mk('text',legendGroup,{class:'n',x:x+5,y:647});
  label.textContent=id;
  
  
  const swatch=mk('rect',legendGroup,{x:x,y:650,width:10,height:7,fill:memberColors[m]});
  
  
});
</script>
</body>
</html>
